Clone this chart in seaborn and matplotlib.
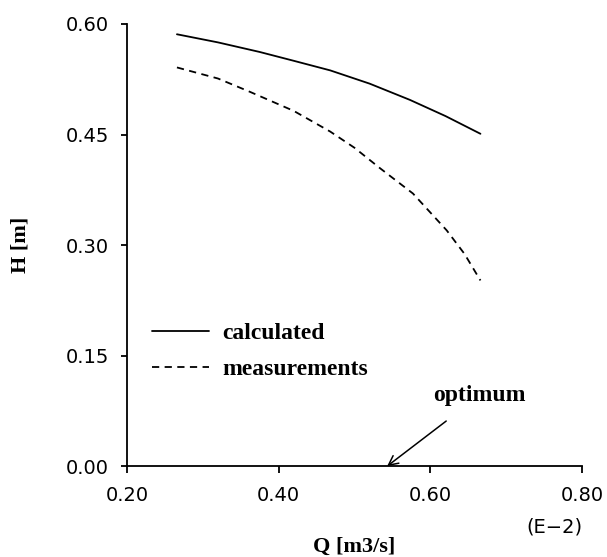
import pandas as pd
import matplotlib.pyplot as plt
import seaborn as sns

# values (Q in E-2 m3/s, H in m)
q_calc = [0.266, 0.320, 0.375, 0.420, 0.468, 0.520, 0.573, 0.620, 0.666]
h_calc = [0.586, 0.575, 0.562, 0.550, 0.537, 0.519, 0.497, 0.475, 0.451]
q_meas = [0.266, 0.320, 0.362, 0.420, 0.468, 0.500, 0.534, 0.577, 0.6215, 0.645, 0.666]
h_meas = [0.541, 0.526, 0.508, 0.482, 0.454, 0.432, 0.404, 0.370, 0.320, 0.288, 0.252]

xticks = [0.20, 0.40, 0.60, 0.80]
yticks = [0.00, 0.15, 0.30, 0.45, 0.60]

df = pd.concat([
    pd.DataFrame({"Q": q_calc, "H": h_calc, "series": "calculated"}),
    pd.DataFrame({"Q": q_meas, "H": h_meas, "series": "measurements"}),
])

sns.set_style("ticks", {"axes.edgecolor": "black", "text.color": "black",
                        "xtick.color": "black", "ytick.color": "black",
                        "axes.labelcolor": "black"})
plt.rcParams["font.family"] = ["DejaVu Sans"]

fig = plt.figure(figsize=(6.07, 5.57), dpi=100)
ax = fig.add_axes([0.209, 0.163, 0.75, 0.794])

sns.lineplot(data=df, x="Q", y="H", style="series", color="black", linewidth=1.3,
             dashes={"calculated": "", "measurements": (4, 3)}, ax=ax, sort=False)

ax.set_xlim(0.20, 0.80)
ax.set_ylim(0.00, 0.60)
ax.set_xticks(xticks)
ax.set_yticks(yticks)
ax.set_xticklabels([f"{v:.2f}" for v in xticks], fontsize=14)
ax.set_yticklabels([f"{v:.2f}" for v in yticks], fontsize=14)
sns.despine(ax=ax)
for s in ["left", "bottom"]:
    ax.spines[s].set_linewidth(1.3)
ax.tick_params(axis="x", length=5, width=1.3, pad=9)
ax.tick_params(axis="y", length=4, width=1.3, pad=9)

serif = dict(family="Liberation Serif", weight="bold")
ax.set_xlabel("Q [m3/s]", fontsize=16, labelpad=23, **serif)
ax.set_ylabel("H [m]", fontsize=16, labelpad=25, **serif)
ax.text(0.80, -0.082, "(E\u22122)", fontsize=14, ha="right", va="center")

leg = ax.legend(loc="upper left", bbox_to_anchor=(0.055, 0.325), frameon=False,
                borderpad=0, borderaxespad=0, handlelength=2.4, handletextpad=0.6,
                labelspacing=0.62, prop=dict(size=17, **serif), title=None)

ax.annotate("optimum", xy=(0.543, 0.0), xytext=(0.665, 0.096),
            ha="center", va="center", fontsize=17, **serif,
            arrowprops=dict(arrowstyle="->", color="black", lw=1.1,
                            shrinkA=14, shrinkB=0))

fig.savefig("out.png", dpi=100)
